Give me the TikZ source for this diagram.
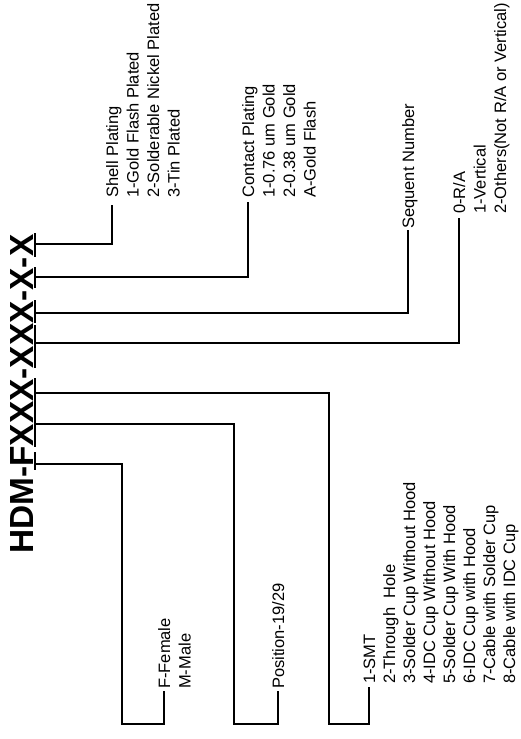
\documentclass[tikz,border=0pt]{standalone}
\usepackage{fontspec}
\setmainfont{Liberation Sans}
\newcommand{\lbllines}[1]{\begin{tabular}[t]{@{}l@{}}#1\end{tabular}}
\begin{document}
\begin{tikzpicture}[x=1pt,y=-1pt,
  conn/.style={line width=1.8pt,line join=miter},
  tick/.style={line width=1.8pt},
  lbl/.style={rotate=90,anchor=base west,inner sep=0pt,font=\fontsize{16.5}{20.5}\selectfont},
  tightlbl/.style={lbl,font=\fontsize{16.5}{20}\selectfont},
  ttl/.style={rotate=90,anchor=base west,inner sep=0pt,font=\fontsize{33.4}{40}\selectfont\bfseries}]
\fill[white] (0,0) rectangle (520,739);
\useasboundingbox (0,0) rectangle (520,739);
% title
\node[ttl] (title) at (33,554) {HDM-FXXX-XXX-X-X};
% tick bars under the code groups
\coordinate (tA1) at (35,233); \coordinate (tA2) at (35,257);
\coordinate (tB1) at (35,267); \coordinate (tB2) at (35,288);
\coordinate (tC1) at (35,300); \coordinate (tC2) at (35,323);
\coordinate (tD1) at (35,325); \coordinate (tD2) at (35,368);
\coordinate (tE1) at (35,378); \coordinate (tE2) at (35,447);
\coordinate (tF1) at (35,452); \coordinate (tF2) at (35,470);
\foreach \t in {A,B,C,D,E,F} \draw[tick] (t\t1) -- (t\t2);
% start points of connectors
\coordinate (sA) at (35,244);
\coordinate (sB) at (35,277);
\coordinate (sC) at (35,313);
\coordinate (sD) at (35,343);
\coordinate (sE1) at (35,393);
\coordinate (sE2) at (35,424);
\coordinate (sF) at (35,464);
% end points
\coordinate (eA) at (112,205);
\coordinate (eB) at (248,202);
\coordinate (eC) at (408,230);
\coordinate (eD) at (459,218);
\coordinate (cE1) at (329,724); \coordinate (eE1) at (369,687);
\coordinate (cE2) at (234,724); \coordinate (eE2) at (278,691);
\coordinate (cF) at (122,724);  \coordinate (eF) at (164,691);
% labels
\node[lbl] (shell) at (118,198) {\lbllines{Shell Plating\\1-Gold Flash Plated\\2-Solderable Nickel Plated\\3-Tin Plated}};
\node[lbl] (contact) at (254,198) {\lbllines{Contact Plating\\1-0.76 um Gold\\2-0.38 um Gold\\A-Gold Flash}};
\node[lbl] (seq) at (414,229) {\lbllines{Sequent Number}};
\node[lbl] (ra) at (465,214) {\lbllines{0-R/A\\1-Vertical\\2-Others(Not R/A or Vertical)}};
\node[lbl] (fm) at (170,689) {\lbllines{F-Female\\M-Male}};
\node[lbl] (pos) at (284,689) {\lbllines{Position-19/29}};
\node[tightlbl] (smt) at (375,684) {\lbllines{1-SMT\\2-Through~~Hole\\3-Solder Cup Without Hood\\4-IDC Cup Without Hood\\5-Solder Cup With Hood\\6-IDC Cup with Hood\\7-Cable with Solder Cup\\8-Cable with IDC Cup}};
% connectors
\draw[conn] (sA) -| (eA);
\draw[conn] (sB) -| (eB);
\draw[conn] (sC) -| (eC);
\draw[conn] (sD) -| (eD);
\draw[conn] (sE1) -| (cE1) -| (eE1);
\draw[conn] (sE2) -| (cE2) -| (eE2);
\draw[conn] (sF) -| (cF) -| (eF);
\end{tikzpicture}
\end{document}
